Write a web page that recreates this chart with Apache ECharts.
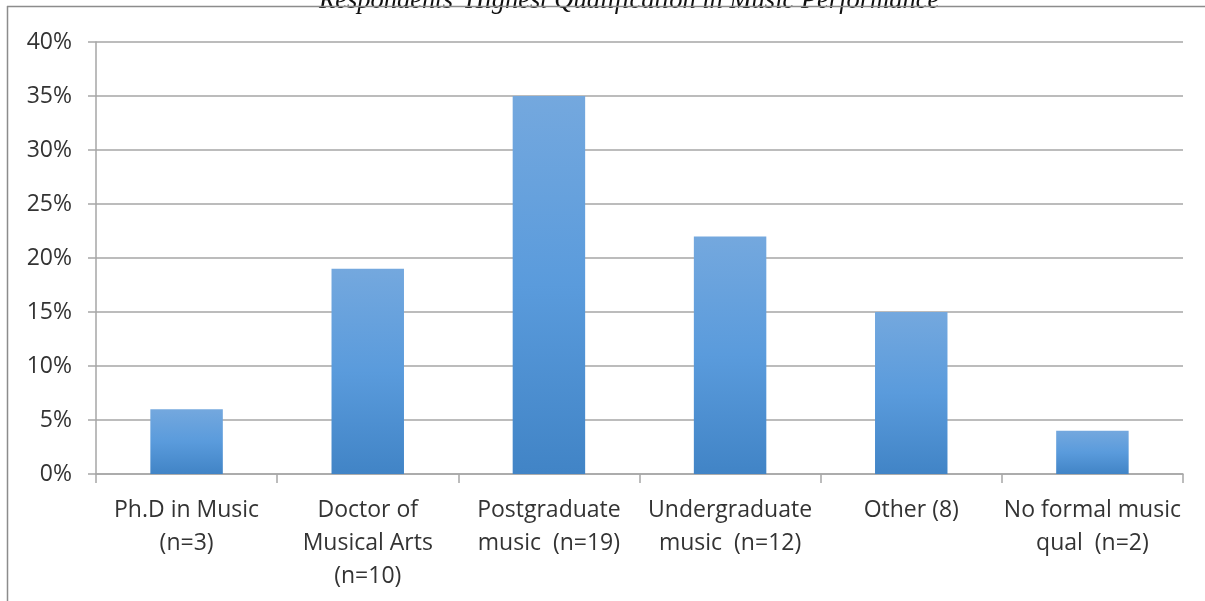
<!DOCTYPE html>
<html><head><meta charset="utf-8">
<script src="https://cdn.jsdelivr.net/npm/echarts@6/dist/echarts.min.js"></script>
<style>html,body{margin:0;padding:0;background:#fff}#c{width:1205px;height:601px}</style>
</head><body><div id="c"></div>
<script>
const title = "Respondents' Highest Qualification in Music Performance";
const categories = ["Ph.D in Music\n(n=3)", "Doctor of\nMusical Arts\n(n=10)", "Postgraduate\nmusic  (n=19)", "Undergraduate\nmusic  (n=12)", "Other (8)", "No formal music\nqual  (n=2)"];
const values = [6, 19, 35, 22, 15, 4];
const yTicks = { min: 0, max: 40, interval: 5 };

const chart = echarts.init(document.getElementById('c'));
chart.setOption({
  animation: false,
  backgroundColor: '#fff',
  title: {
    text: title, left: 314, top: -17,
    textStyle: { fontFamily: 'Liberation Serif', fontStyle: 'italic', fontWeight: 'normal', fontSize: 26.5, color: '#111' }
  },
  graphic: [
    { type: 'line', shape: { x1: 7, y1: 6.5, x2: 1205, y2: 6.5 }, style: { stroke: '#8c8c8c', lineWidth: 1.5 }, z: 10 },
    { type: 'line', shape: { x1: 7.5, y1: 6, x2: 7.5, y2: 601 }, style: { stroke: '#8c8c8c', lineWidth: 1.5 }, z: 10 }
  ],
  grid: { left: 96, right: 22, top: 42, bottom: 127 },
  xAxis: {
    type: 'category', data: categories,
    axisLine: { lineStyle: { color: '#a6a6a6', width: 1.5 } },
    axisTick: { show: true, length: 9, lineStyle: { color: '#a6a6a6', width: 1.5 } },
    axisLabel: { interval: 0, margin: 20, lineHeight: 33, fontFamily: 'Open Sans', fontSize: 23, color: '#333' }
  },
  yAxis: {
    type: 'value', min: yTicks.min, max: yTicks.max, interval: yTicks.interval,
    axisLine: { show: true, lineStyle: { color: '#a6a6a6', width: 1.5 } },
    axisTick: { show: true, length: 8, lineStyle: { color: '#a6a6a6', width: 1.5 } },
    splitLine: { lineStyle: { color: '#a6a6a6', width: 1.5 } },
    axisLabel: { formatter: '{value}%', margin: 24, fontFamily: 'Open Sans', fontSize: 23, color: '#333' }
  },
  series: [{
    type: 'bar', data: values, barCategoryGap: '60%',
    itemStyle: {
      color: new echarts.graphic.LinearGradient(0, 0, 0, 1, [
        { offset: 0, color: '#74a8de' },
        { offset: 0.5, color: '#5a9bdc' },
        { offset: 1, color: '#4184c6' }
      ])
    }
  }]
});
</script></body></html>
